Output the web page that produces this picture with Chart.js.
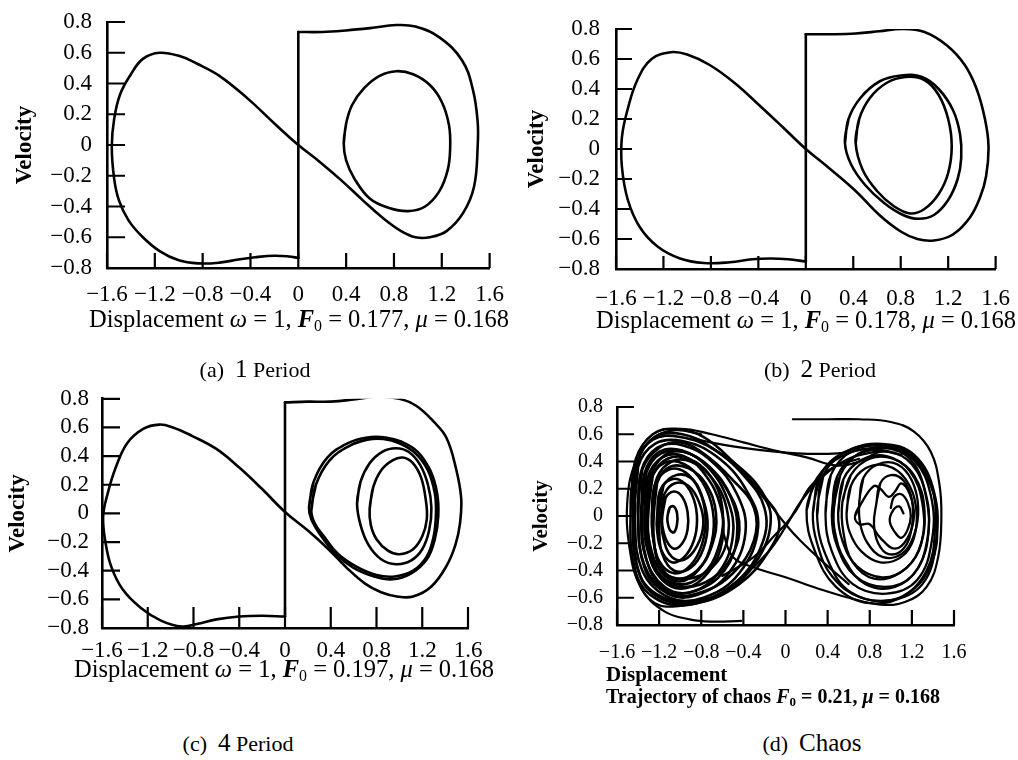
<!DOCTYPE html>
<html><head><meta charset="utf-8">
<script src="https://cdn.jsdelivr.net/npm/chart.js@4.4.1/dist/chart.umd.min.js"></script>
<style>
body{margin:0;background:#fff;}
#wrap{position:relative;width:1018px;height:760px;overflow:hidden;background:#fff;font-family:'Liberation Serif','Times New Roman',serif;color:#000;}
canvas{position:absolute;}
.t{position:absolute;white-space:nowrap;line-height:1;transform:translateX(-50%);}
.l{position:absolute;white-space:nowrap;line-height:1;}
sub{font-size:65%;vertical-align:-0.22em;line-height:0;}
i{font-style:italic;}
</style></head><body>
<div id="wrap">
<canvas id="ca" width="509" height="340" style="left:0;top:0;width:509px;height:340px"></canvas>
<canvas id="cb" width="509" height="340" style="left:509px;top:0;width:509px;height:340px"></canvas>
<canvas id="cc" width="509" height="330" style="left:0;top:380px;width:509px;height:330px"></canvas>
<canvas id="cd" width="509" height="330" style="left:509px;top:380px;width:509px;height:330px"></canvas>

<div class="t" style="left:299px;top:307px;font-size:24.5px">Displacement <i>ω</i> = 1, <i><b>F</b></i><sub>0</sub> = 0.177, <i>μ</i> = 0.168</div>
<div class="t" style="left:806px;top:308px;font-size:24.5px">Displacement <i>ω</i> = 1, <i><b>F</b></i><sub>0</sub> = 0.178, <i>μ</i> = 0.168</div>
<div class="t" style="left:284px;top:657px;font-size:24.5px">Displacement <i>ω</i> = 1, <i><b>F</b></i><sub>0</sub> = 0.197, <i>μ</i> = 0.168</div>
<div class="l" style="left:606px;top:664px;font-size:21px;font-weight:bold">Displacement</div>
<div class="l" style="left:606px;top:686px;font-size:20px;font-weight:bold">Trajectory of chaos <i>F</i><sub>0</sub> = 0.21, <i>μ</i> = 0.168</div>

<div class="t" style="left:255px;top:356px;font-size:22px">(a)&nbsp;&nbsp;<span style="font-size:25px">1</span> Period</div>
<div class="t" style="left:820px;top:356px;font-size:22px">(b)&nbsp;&nbsp;<span style="font-size:25px">2</span> Period</div>
<div class="t" style="left:238px;top:730px;font-size:22px">(c)&nbsp;&nbsp;<span style="font-size:25px">4</span> Period</div>
<div class="t" style="left:812px;top:730px;font-size:22px">(d)&nbsp;&nbsp;<span style="font-size:25px">Chaos</span></div>
</div>
<script>
// ---------- tick values and labels ----------
const xTickValues = [-1.6,-1.2,-0.8,-0.4,0,0.4,0.8,1.2,1.6];
const xTickLabels = ['\u22121.6','\u22121.2','\u22120.8','\u22120.4','0','0.4','0.8','1.2','1.6'];
const yTickValues = [-0.8,-0.6,-0.4,-0.2,0,0.2,0.4,0.6,0.8];
const yTickLabels = ['\u22120.8','\u22120.6','\u22120.4','\u22120.2','0','0.2','0.4','0.6','0.8'];
const yAxisTitle = 'Velocity';

// ---------- (a) 1 period ----------
const aOuter = [[0,0.735],[0.2,0.735],[0.4,0.745],[0.6,0.76],[0.82,0.78],[0.98,0.77],[1.18,0.7],[1.37,0.55],[1.46,0.36],[1.5,0.15],[1.5,-0.01],[1.47,-0.27],[1.38,-0.44],[1.24,-0.56],[1.1,-0.6],[0.98,-0.6],[0.86,-0.56],[0.7,-0.47],[0.54,-0.36],[0.36,-0.23],[0.18,-0.11],[0,0],[-0.2,0.14],[-0.42,0.3],[-0.66,0.45],[-0.85,0.53],[-0.98,0.575],[-1.16,0.6],[-1.3,0.56],[-1.4,0.46],[-1.49,0.33],[-1.54,0.17],[-1.56,-0.01],[-1.54,-0.22],[-1.5,-0.36],[-1.42,-0.49],[-1.3,-0.6],[-1.16,-0.69],[-1.0,-0.75],[-0.84,-0.77],[-0.66,-0.765],[-0.5,-0.745],[-0.36,-0.73],[-0.2,-0.72],[-0.08,-0.725],[0,-0.735]];
const aJump = [[0,-0.735],[0,0.735]];
const aInner = [[0.38,0.01],[0.4,0.14],[0.45,0.26],[0.55,0.37],[0.68,0.45],[0.82,0.48],[0.96,0.46],[1.1,0.39],[1.2,0.28],[1.26,0.13],[1.27,-0.02],[1.25,-0.16],[1.18,-0.3],[1.06,-0.4],[0.92,-0.43],[0.76,-0.41],[0.6,-0.35],[0.47,-0.22],[0.4,-0.1],[0.38,0.01]];

// ---------- (b) 2 period ----------
const bOuter = [[0,0.765],[0.2,0.765],[0.42,0.77],[0.62,0.785],[0.81,0.8],[1.0,0.78],[1.19,0.69],[1.34,0.56],[1.44,0.4],[1.51,0.2],[1.54,0.02],[1.52,-0.18],[1.47,-0.32],[1.38,-0.46],[1.24,-0.57],[1.08,-0.61],[0.94,-0.6],[0.8,-0.55],[0.62,-0.44],[0.42,-0.28],[0.2,-0.13],[0,0],[-0.2,0.15],[-0.39,0.29],[-0.6,0.44],[-0.81,0.56],[-1.0,0.63],[-1.14,0.645],[-1.3,0.6],[-1.42,0.46],[-1.5,0.27],[-1.55,0.08],[-1.55,-0.12],[-1.5,-0.34],[-1.4,-0.52],[-1.25,-0.65],[-1.06,-0.73],[-0.86,-0.76],[-0.64,-0.755],[-0.45,-0.735],[-0.3,-0.73],[-0.15,-0.735],[0,-0.75]];
const bJump = [[0,-0.75],[0,0.765]];
const bInner1 = [[0.33,0.04],[0.36,0.2],[0.46,0.34],[0.62,0.45],[0.8,0.49],[0.98,0.48],[1.12,0.4],[1.24,0.26],[1.3,0.1],[1.31,-0.06],[1.28,-0.2],[1.2,-0.34],[1.08,-0.44],[0.95,-0.465],[0.82,-0.44],[0.66,-0.36],[0.5,-0.24],[0.38,-0.1],[0.33,0.04]];
const bInner2 = [[0.42,0.04],[0.45,0.2],[0.54,0.34],[0.68,0.44],[0.84,0.48],[1.0,0.46],[1.12,0.36],[1.2,0.2],[1.23,0.02],[1.2,-0.16],[1.12,-0.3],[1.0,-0.4],[0.88,-0.43],[0.74,-0.38],[0.6,-0.28],[0.48,-0.14],[0.42,0.04]];

// ---------- (c) 4 period ----------
const cOuter = [[0,0.775],[0.2,0.78],[0.4,0.78],[0.6,0.795],[0.8,0.815],[1.0,0.8],[1.15,0.75],[1.3,0.64],[1.41,0.53],[1.49,0.33],[1.54,0.11],[1.53,-0.07],[1.49,-0.22],[1.41,-0.37],[1.28,-0.51],[1.12,-0.58],[0.98,-0.58],[0.84,-0.55],[0.7,-0.49],[0.54,-0.38],[0.38,-0.25],[0.2,-0.12],[0,0.01],[-0.2,0.17],[-0.4,0.32],[-0.6,0.45],[-0.81,0.54],[-0.98,0.6],[-1.1,0.62],[-1.24,0.59],[-1.38,0.49],[-1.48,0.32],[-1.55,0.14],[-1.59,-0.02],[-1.57,-0.2],[-1.52,-0.37],[-1.42,-0.53],[-1.26,-0.66],[-1.08,-0.75],[-0.9,-0.79],[-0.76,-0.77],[-0.6,-0.74],[-0.4,-0.72],[-0.2,-0.715],[0,-0.72]];
const cJump = [[0,-0.72],[0,0.775]];
const cInner1 = [[0.23,0.02],[0.27,0.2],[0.39,0.37],[0.56,0.47],[0.72,0.515],[0.86,0.52],[1.0,0.49],[1.14,0.42],[1.25,0.3],[1.31,0.14],[1.32,0.0],[1.3,-0.16],[1.24,-0.3],[1.12,-0.4],[0.96,-0.44],[0.8,-0.43],[0.62,-0.37],[0.46,-0.28],[0.34,-0.16],[0.26,-0.07],[0.23,0.02]];
const cInner2 = [[0.21,0.04],[0.25,0.22],[0.37,0.39],[0.55,0.49],[0.72,0.53],[0.88,0.53],[1.02,0.5],[1.16,0.43],[1.27,0.3],[1.33,0.14],[1.34,-0.02],[1.31,-0.18],[1.24,-0.32],[1.1,-0.42],[0.94,-0.46],[0.78,-0.44],[0.6,-0.38],[0.44,-0.28],[0.31,-0.15],[0.23,-0.04],[0.21,0.04]];
const cInner3 = [[0.63,0.07],[0.66,0.22],[0.74,0.35],[0.85,0.43],[0.97,0.455],[1.08,0.43],[1.18,0.34],[1.25,0.2],[1.28,0.04],[1.26,-0.12],[1.2,-0.25],[1.1,-0.33],[0.97,-0.355],[0.84,-0.32],[0.73,-0.22],[0.66,-0.08],[0.63,0.07]];
const cInner4 = [[0.74,0.03],[0.77,0.18],[0.84,0.3],[0.94,0.37],[1.03,0.39],[1.12,0.35],[1.19,0.25],[1.23,0.1],[1.24,-0.04],[1.2,-0.16],[1.12,-0.25],[1.0,-0.285],[0.9,-0.26],[0.8,-0.18],[0.75,-0.08],[0.74,0.03]];

// ---------- (d) chaos ----------
const dLeftLoops = [
 [[-1.12,0.0],[-1.1,0.06],[-1.06,0.07],[-1.03,0.02],[-1.03,-0.06],[-1.06,-0.12],[-1.1,-0.1],[-1.12,-0.04],[-1.12,0.0]],
 [[-1.17,0.0],[-1.14,0.13],[-1.06,0.18],[-0.98,0.14],[-0.93,0.03],[-0.93,-0.1],[-0.98,-0.2],[-1.06,-0.24],[-1.13,-0.18],[-1.17,-0.07],[-1.17,0.0]],
 [[-1.22,0.0],[-1.19,0.19],[-1.08,0.27],[-0.96,0.24],[-0.87,0.12],[-0.84,-0.03],[-0.87,-0.18],[-0.96,-0.3],[-1.08,-0.34],[-1.18,-0.25],[-1.22,-0.1],[-1.22,0.0]],
 [[-1.27,0.0],[-1.24,0.23],[-1.11,0.34],[-0.95,0.32],[-0.82,0.19],[-0.76,0.0],[-0.79,-0.2],[-0.9,-0.36],[-1.06,-0.42],[-1.2,-0.33],[-1.26,-0.14],[-1.27,0.0]],
 [[-1.31,0.0],[-1.28,0.26],[-1.15,0.39],[-0.96,0.38],[-0.79,0.25],[-0.69,0.04],[-0.7,-0.19],[-0.82,-0.39],[-1.0,-0.48],[-1.18,-0.41],[-1.29,-0.2],[-1.31,0.0]],
 [[-1.34,0.0],[-1.31,0.28],[-1.17,0.43],[-0.97,0.44],[-0.77,0.31],[-0.62,0.08],[-0.6,-0.18],[-0.73,-0.41],[-0.95,-0.53],[-1.17,-0.47],[-1.31,-0.25],[-1.34,0.0]],
 [[-1.37,0.02],[-1.34,0.31],[-1.2,0.47],[-0.98,0.48],[-0.74,0.36],[-0.55,0.12],[-0.5,-0.15],[-0.64,-0.42],[-0.9,-0.56],[-1.15,-0.52],[-1.33,-0.3],[-1.37,0.02]],
 [[-1.4,0.0],[-1.37,0.33],[-1.22,0.5],[-0.98,0.52],[-0.7,0.4],[-0.46,0.16],[-0.38,-0.12],[-0.54,-0.42],[-0.84,-0.58],[-1.12,-0.57],[-1.34,-0.36],[-1.4,0.0]],
 [[-1.43,0.0],[-1.4,0.36],[-1.24,0.53],[-0.98,0.55],[-0.66,0.44],[-0.38,0.2],[-0.26,-0.08],[-0.44,-0.42],[-0.78,-0.6],[-1.1,-0.6],[-1.36,-0.4],[-1.43,0.0]],
 [[-1.45,0.05],[-1.42,0.38],[-1.26,0.56],[-1.0,0.58],[-0.66,0.48],[-0.32,0.24],[-0.14,0.0],[-0.3,-0.36],[-0.68,-0.6],[-1.08,-0.62],[-1.38,-0.44],[-1.45,0.05]],
 [[-1.3,0.05],[-1.26,0.3],[-1.12,0.42],[-0.92,0.42],[-0.72,0.3],[-0.6,0.06],[-0.64,-0.24],[-0.8,-0.44],[-1.02,-0.5],[-1.22,-0.4],[-1.3,-0.16],[-1.3,0.05]],
 [[-1.25,0.02],[-1.22,0.24],[-1.1,0.36],[-0.92,0.35],[-0.76,0.24],[-0.66,0.02],[-0.7,-0.22],[-0.84,-0.4],[-1.04,-0.46],[-1.2,-0.36],[-1.25,-0.16],[-1.25,0.02]],
 [[-1.2,0.04],[-1.16,0.22],[-1.04,0.3],[-0.9,0.28],[-0.8,0.16],[-0.74,-0.04],[-0.78,-0.24],[-0.9,-0.38],[-1.06,-0.4],[-1.17,-0.28],[-1.2,-0.1],[-1.2,0.04]],
 [[-1.36,0.06],[-1.32,0.32],[-1.18,0.46],[-0.96,0.47],[-0.72,0.36],[-0.52,0.14],[-0.46,-0.14],[-0.58,-0.4],[-0.86,-0.55],[-1.14,-0.54],[-1.32,-0.32],[-1.36,0.06]],
 [[-1.4,0.05],[-1.36,0.34],[-1.2,0.5],[-1.0,0.54],[-0.78,0.46],[-0.52,0.28],[-0.3,0.06],[-0.3,-0.18],[-0.5,-0.42],[-0.8,-0.56],[-1.1,-0.57],[-1.33,-0.4],[-1.4,0.05]],
 [[-1.32,0.04],[-1.28,0.3],[-1.14,0.45],[-0.96,0.47],[-0.76,0.38],[-0.56,0.2],[-0.44,-0.04],[-0.5,-0.28],[-0.7,-0.46],[-0.96,-0.52],[-1.2,-0.44],[-1.31,-0.2],[-1.32,0.04]],
 [[-1.44,0.02],[-1.4,0.4],[-1.24,0.58],[-0.98,0.6],[-0.7,0.5],[-0.4,0.3],[-0.2,0.06],[-0.22,-0.2],[-0.46,-0.48],[-0.8,-0.62],[-1.14,-0.62],[-1.38,-0.44],[-1.44,0.02]],
 [[-1.26,0.06],[-1.22,0.28],[-1.08,0.4],[-0.9,0.4],[-0.7,0.28],[-0.56,0.06],[-0.56,-0.2],[-0.7,-0.38],[-0.92,-0.46],[-1.14,-0.42],[-1.25,-0.2],[-1.26,0.06]],
 [[-1.18,0.02],[-1.15,0.16],[-1.05,0.24],[-0.92,0.22],[-0.82,0.1],[-0.78,-0.06],[-0.84,-0.22],[-0.96,-0.32],[-1.08,-0.3],[-1.16,-0.16],[-1.18,0.02]],
 [[-1.47,0.1],[-1.42,0.42],[-1.26,0.6],[-1.04,0.64],[-0.78,0.58],[-0.5,0.4],[-0.22,0.16],[-0.06,-0.04],[-0.16,-0.26],[-0.44,-0.5],[-0.84,-0.64],[-1.2,-0.62],[-1.42,-0.42],[-1.47,0.1]]
];
const dRightLoops = [
 [[1.0,0.06],[1.03,0.14],[1.1,0.16],[1.16,0.1],[1.19,0.0],[1.16,-0.1],[1.1,-0.16],[1.04,-0.12],[0.99,-0.04],[1.02,0.04],[1.08,0.07],[1.12,0.02]],
 [[0.66,0.0],[0.74,0.12],[0.84,0.22],[0.9,0.2],[0.98,0.14],[1.04,0.18],[1.1,0.24],[1.18,0.16],[1.22,0.0],[1.16,-0.16],[1.04,-0.24],[0.9,-0.16],[0.8,-0.06],[0.7,-0.06],[0.66,0.0]],
 [[0.58,0.02],[0.62,0.22],[0.76,0.35],[0.96,0.37],[1.14,0.27],[1.24,0.06],[1.22,-0.16],[1.1,-0.3],[0.9,-0.34],[0.72,-0.26],[0.61,-0.12],[0.58,0.02]],
 [[0.5,0.02],[0.55,0.27],[0.72,0.41],[0.96,0.44],[1.18,0.33],[1.3,0.09],[1.29,-0.2],[1.15,-0.38],[0.92,-0.45],[0.68,-0.37],[0.54,-0.18],[0.5,0.02]],
 [[0.44,0.0],[0.49,0.29],[0.68,0.45],[0.95,0.48],[1.2,0.38],[1.34,0.12],[1.34,-0.2],[1.2,-0.44],[0.94,-0.52],[0.66,-0.44],[0.49,-0.22],[0.44,0.0]],
 [[0.38,0.02],[0.43,0.3],[0.64,0.48],[0.94,0.51],[1.22,0.41],[1.38,0.15],[1.39,-0.18],[1.25,-0.47],[0.96,-0.57],[0.64,-0.5],[0.44,-0.26],[0.38,0.02]],
 [[0.3,0.0],[0.36,0.3],[0.6,0.48],[0.92,0.53],[1.22,0.45],[1.41,0.18],[1.43,-0.18],[1.3,-0.5],[0.98,-0.62],[0.62,-0.56],[0.4,-0.32],[0.3,0.0]],
 [[0.2,0.04],[0.3,0.28],[0.54,0.44],[0.86,0.5],[1.16,0.46],[1.36,0.26],[1.44,-0.04],[1.38,-0.36],[1.14,-0.58],[0.8,-0.64],[0.48,-0.52],[0.28,-0.26],[0.2,0.04]],
 [[0.86,0.08],[0.9,0.24],[1.0,0.3],[1.12,0.26],[1.2,0.12],[1.2,-0.08],[1.12,-0.24],[0.98,-0.28],[0.88,-0.2],[0.84,-0.06],[0.86,0.08]],
 [[0.54,0.1],[0.62,0.3],[0.8,0.42],[1.02,0.42],[1.22,0.3],[1.32,0.04],[1.26,-0.26],[1.08,-0.42],[0.84,-0.46],[0.64,-0.34],[0.55,-0.12],[0.54,0.1]],
 [[0.26,0.02],[0.33,0.3],[0.56,0.47],[0.88,0.52],[1.18,0.46],[1.38,0.24],[1.42,-0.08],[1.34,-0.4],[1.08,-0.6],[0.72,-0.6],[0.44,-0.44],[0.3,-0.2],[0.26,0.02]],
 [[0.46,0.06],[0.52,0.3],[0.7,0.46],[0.94,0.5],[1.18,0.42],[1.32,0.2],[1.36,-0.1],[1.26,-0.38],[1.04,-0.52],[0.76,-0.5],[0.56,-0.32],[0.47,-0.12],[0.46,0.06]],
 [[0.7,0.1],[0.74,0.28],[0.88,0.38],[1.06,0.38],[1.2,0.26],[1.26,0.06],[1.22,-0.14],[1.1,-0.28],[0.92,-0.3],[0.78,-0.2],[0.71,-0.06],[0.7,0.1]]
];
const dTransits = [
 [[0.07,0.71],[0.4,0.71],[0.7,0.71],[1.0,0.69],[1.22,0.62],[1.38,0.47],[1.46,0.24],[1.48,0.0],[1.45,-0.3],[1.34,-0.52],[1.14,-0.63],[0.9,-0.65],[0.6,-0.6],[0.3,-0.53],[0.0,-0.45],[-0.29,-0.38],[-0.5,-0.3],[-0.6,-0.1]],
 [[-1.2,0.6],[-1.0,0.64],[-0.7,0.6],[-0.4,0.54],[-0.1,0.48],[0.2,0.43],[0.49,0.37],[0.7,0.4],[0.9,0.47],[1.1,0.45]],
 [[-0.9,0.58],[-0.77,0.55],[-0.4,0.5],[0.11,0.46],[0.5,0.46],[0.76,0.49],[0.96,0.5]],
 [[0.6,-0.5],[0.36,-0.34],[0.14,-0.18],[0.0,-0.06],[-0.14,0.08],[-0.3,0.26],[-0.5,0.4],[-0.7,0.5]],
 [[-1.48,-0.2],[-1.4,-0.48],[-1.24,-0.64],[-1.0,-0.66],[-0.7,-0.6],[-0.4,-0.44],[-0.16,-0.26],[0.0,-0.08],[0.14,0.1],[0.34,0.28],[0.6,0.42],[0.9,0.48]],
 [[-0.42,-0.77],[-0.7,-0.775],[-0.9,-0.76],[-1.15,-0.7],[-1.37,-0.53],[-1.48,-0.24],[-1.5,0.13],[-1.42,0.4],[-1.26,0.57],[-1.05,0.63],[-0.8,0.6]],
 [[-0.6,-0.44],[-0.3,-0.3],[-0.1,-0.14],[0.0,-0.06],[0.1,0.04],[0.24,0.22],[0.46,0.36],[0.7,0.42]]
];

// ---------- chart helpers ----------
function toPts(arr){
  const closed = arr.length > 3 && arr[0][0] === arr[arr.length-1][0] && arr[0][1] === arr[arr.length-1][1];
  const src = closed ? arr.concat([arr[1]]) : arr;
  return src.map(p => ({x:p[0], y:p[1]}));
}
function ds(arr, w, tension){
  return {data: toPts(arr), showLine:true, borderColor:'#000', borderWidth:w, pointRadius:0,
          tension: tension, fill:false, borderCapStyle:'round', borderJoinStyle:'round'};
}
const innerTicks = {
  id:'innerTicks',
  afterDraw(chart, args, o){
    const {ctx, chartArea} = chart;
    const xs = chart.scales.x, ys = chart.scales.y;
    ctx.save(); ctx.strokeStyle='#000'; ctx.lineWidth=2.2; ctx.beginPath();
    ys.ticks.forEach(t => { const p = ys.getPixelForValue(t.value); ctx.moveTo(chartArea.left, p); ctx.lineTo(chartArea.left + o.ylen, p); });
    xs.ticks.forEach(t => { const p = xs.getPixelForValue(t.value); ctx.moveTo(p, chartArea.bottom); ctx.lineTo(p, chartArea.bottom - o.xlen); });
    ctx.stroke(); ctx.restore();
  }
};
function makeChart(id, datasets, c){
  const fam = "'Liberation Serif','Times New Roman',serif";
  return new Chart(document.getElementById(id), {
    type:'scatter',
    data:{datasets},
    plugins:[innerTicks],
    options:{
      responsive:false, animation:false, events:[],
      layout:{padding:{left:0, top:c.top, right:c.right, bottom:c.bottom}},
      plugins:{legend:{display:false}, tooltip:{enabled:false}, innerTicks:{xlen:c.xlen, ylen:c.ylen}},
      scales:{
        x:{type:'linear', min:-1.6, max:1.6,
           afterBuildTicks:s => { s.ticks = xTickValues.map(v => ({value:v})); },
           afterFit:s => { s.height = 40; },
           grid:{display:false}, border:{display:true, color:'#000', width:2.6},
           ticks:{callback:(v,i) => xTickLabels[i], autoSkip:false, maxRotation:0, minRotation:0,
                  padding:c.xpad, color:'#000', font:{family:fam, size:c.tick}}},
        y:{type:'linear', min:-0.8, max:0.8,
           afterBuildTicks:s => { s.ticks = yTickValues.map(v => ({value:v})); },
           afterFit:s => { s.width = c.yw; },
           grid:{display:false}, border:{display:true, color:'#000', width:2.6},
           title:{display:true, text:yAxisTitle, color:'#000', font:{family:fam, size:c.tsize, weight:'bold'}, padding:{top:c.tpad, bottom:0}},
           ticks:{callback:(v,i) => yTickLabels[i], autoSkip:false, padding:c.ypad, color:'#000', font:{family:fam, size:c.tick}}}
      }
    }
  });
}

const LW = 2.6;
makeChart('ca', [ds(aOuter,LW,0.4), ds(aJump,LW,0), ds(aInner,LW,0.4)],
  {top:22, right:18, bottom:32, yw:107, xpad:5, ypad:7, tick:23, tsize:23, tpad:11, xlen:15, ylen:18});
makeChart('cb', [ds(bOuter,LW,0.4), ds(bJump,LW,0), ds(bInner1,LW,0.4), ds(bInner2,LW,0.4)],
  {top:29, right:17, bottom:31, yw:107, xpad:8, ypad:8, tick:23, tsize:23, tpad:14, xlen:13, ylen:16});
makeChart('cc', [ds(cOuter,LW,0.4), ds(cJump,LW,0), ds(cInner1,LW,0.4), ds(cInner2,LW,0.4), ds(cInner3,LW,0.4), ds(cInner4,LW,0.4)],
  {top:17, right:41, bottom:42, yw:102, xpad:1, ypad:5, tick:23, tsize:23, tpad:4, xlen:21, ylen:18});
const dSets = [];
dLeftLoops.forEach(l => dSets.push(ds(l,2.6,0.4)));
dRightLoops.forEach(l => dSets.push(ds(l,2.3,0.4)));
dTransits.forEach(l => dSets.push(ds(l,2.2,0.4)));
makeChart('cd', dSets,
  {top:27, right:64, bottom:45, yw:108, xpad:8, ypad:6, tick:20, tsize:21, tpad:20, xlen:15, ylen:17});
</script>
</body></html>
